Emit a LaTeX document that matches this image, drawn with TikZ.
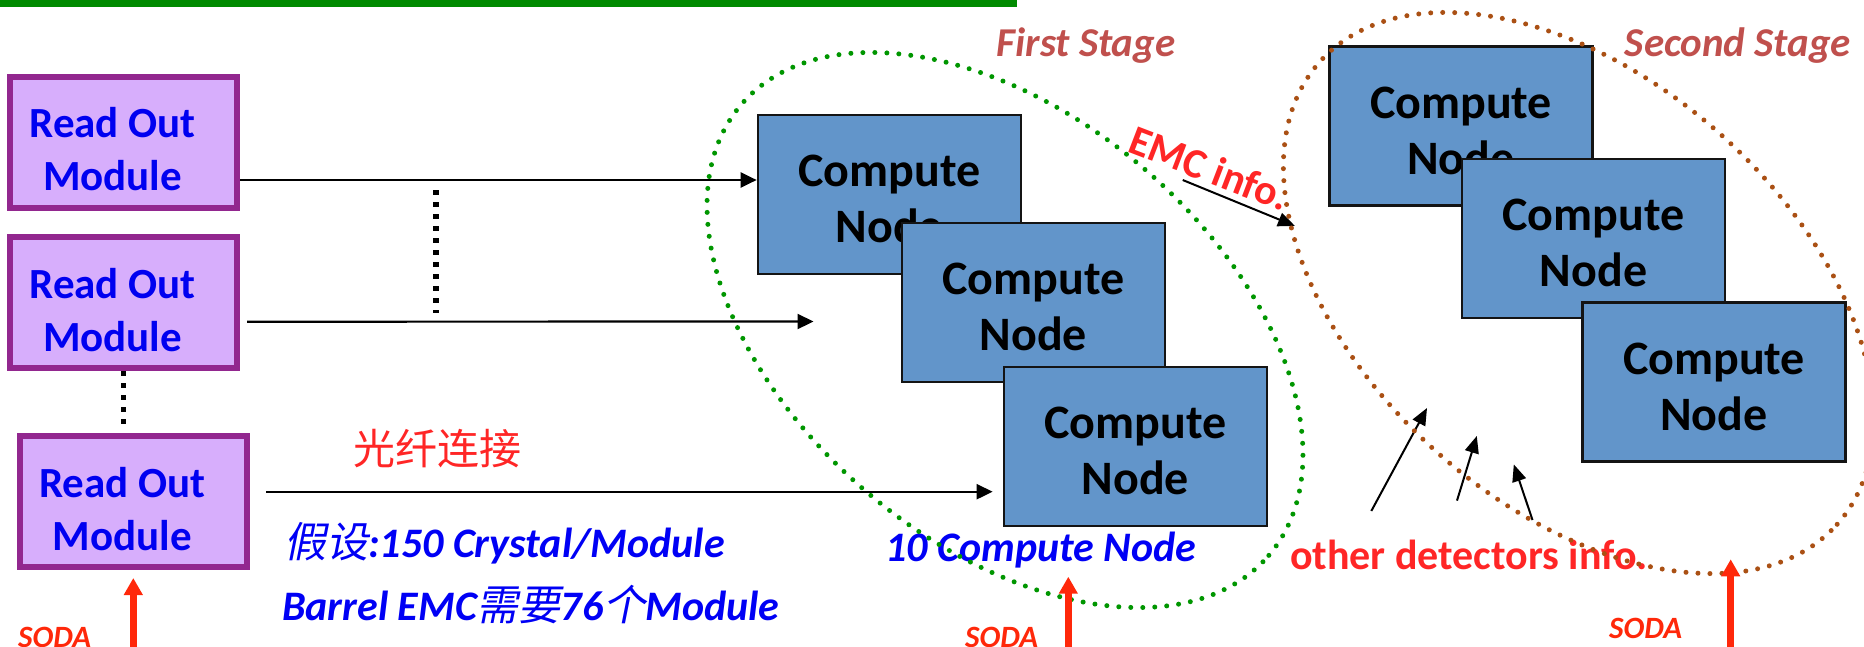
\documentclass[tikz,border=0pt]{standalone}
\usepackage{fontspec}
\setmainfont{Carlito}
\newfontfamily\cjkup{Noto Sans CJK SC}
\newfontfamily\cjkit{Noto Sans CJK SC}[FakeSlant=0.2]
\usetikzlibrary{arrows.meta,shapes.geometric,calc}

\definecolor{barGreen}{RGB}{0,138,0}
\definecolor{romFill}{RGB}{215,174,252}
\definecolor{romEdge}{RGB}{146,39,143}
\definecolor{romBlue}{RGB}{0,0,240}
\definecolor{cnFill}{RGB}{98,149,202}
\definecolor{cnEdge}{RGB}{20,20,20}
\definecolor{dotGreen}{RGB}{0,150,0}
\definecolor{dotBrown}{RGB}{170,80,20}
\definecolor{stageRed}{RGB}{192,80,77}
\definecolor{noteBlue}{RGB}{0,0,245}
\definecolor{infoRed}{RGB}{255,38,38}
\definecolor{sodaRed}{RGB}{255,40,10}

% strut that lowers the two-line label inside a compute box
\newcommand\cnLift{\rule{0pt}{40.5pt}}
% upright CJK inside the bold italic notes
\newcommand\cjkNote[1]{{\cjkit\mdseries #1}}

\begin{document}
\begin{tikzpicture}[x=1pt,y=-1pt,
  romBox/.style={draw=romEdge, fill=romFill, line width=6pt,
    minimum width=227pt, minimum height=131pt, inner sep=0pt},
  romText/.style={text=romBlue, font=\bfseries\fontsize{43}{53}\selectfont,
    align=center, inner sep=0pt},
  cnBox/.style={draw=cnEdge, fill=cnFill, line width=2.5pt,
    minimum width=263pt, minimum height=159pt, inner sep=0pt,
    align=center, font=\bfseries\fontsize{48}{56}\selectfont},
  link/.style={line width=2.2pt, -{Triangle[length=16pt,width=15pt]}},
  thinArrow/.style={line width=2pt, -{Triangle[length=17pt,width=14pt]}},
  sodaArrow/.style={draw=sodaRed, line width=6.5pt,
    -{Triangle[length=17pt,width=18pt]}},
  vdots/.style={line width=5.5pt, dash pattern=on 5.3pt off 6.7pt},
  stageRing/.style={ellipse, inner sep=0pt, line width=5pt, line cap=round,
    dash pattern=on 0pt off 12pt, minimum width=694pt, minimum height=426pt},
  stageTitle/.style={text=stageRed, font=\bfseries\itshape\fontsize{41}{48}\selectfont,
    inner sep=0pt, anchor=base},
  note/.style={text=noteBlue, font=\bfseries\itshape\fontsize{42}{50}\selectfont,
    inner sep=0pt, anchor=base west},
  redLabel/.style={text=infoRed, font=\bfseries\fontsize{42}{50}\selectfont, inner sep=0pt},
  sodaText/.style={text=sodaRed, font=\bfseries\itshape\fontsize{31}{36}\selectfont,
    inner sep=0pt, anchor=base west}
]
\useasboundingbox (0,0) rectangle (1864,646);
\fill[white] (0,0) rectangle (1864,646);
\clip (0,0) rectangle (1864,646);

% title rule
\fill[barGreen] (0,0) rectangle (1017,7.3);

% read-out modules
\node[romBox] (r1) at (123.6,142) {};
\node[romBox] (r2) at (123.6,302.5) {};
\node[romBox] (r3) at (133.5,501.2) {};
\node[romText] (r1t) at ($(r1.center)+(-11,7.5)$) {Read Out\\Module};
\node[romText] (r2t) at ($(r2.center)+(-11,7.5)$) {Read Out\\Module};
\node[romText] (r3t) at ($(r3.center)+(-11,7.5)$) {Read Out\\Module};

% first-stage compute nodes
\node[cnBox] (c1) at (889.4,194.3) {\cnLift Compute\\Node};
\node[cnBox] (c2) at (1033.4,302.3) {\cnLift Compute\\Node};
\node[cnBox] (c3) at (1135.4,446.5) {\cnLift Compute\\Node};

% second-stage compute nodes
\node[cnBox] (c4) at (1461,126) {\cnLift Compute\\Node};
\node[cnBox] (c5) at (1593.5,238.3) {\cnLift Compute\\Node};
\node[cnBox] (c6) at (1714,382) {\cnLift Compute\\Node};

% fibre links
\draw[link] (r1.east) ++(0,38) coordinate (a1s) -- (a1s -| c1.west);
\coordinate (a2s) at ($(r2.east)+(7,19.2)$);
\coordinate (a2e) at (813.5,321.5);
\draw[link] (a2s) -- (a2e);
\coordinate (a3s) at ($(r3.east)+(16,-9.5)$);
\path (a3s -| c3.west) coordinate (a3w);
\draw[link] (a3s) -- ([xshift=-10pt]a3w);

% ellipsis marks
\draw[vdots] (r2.south) -- ++(0,54);
\coordinate (d1) at (436,190);
\coordinate (d2) at (436,313);
\draw[vdots] (d1) -- (d2);

% labels on the left
\node[text=infoRed, font=\cjkup\fontsize{42}{50}\selectfont, inner sep=0pt] (fiber) at (437.5,449) {光纤连接};
\node[note] (n1) at (284,557) {\cjkNote{假设}:150 Crystal/Module};
\node[note] (n2) at (282,620.5) {Barrel EMC\cjkNote{需要}76\cjkNote{个}Module};
\node[note, anchor=base] (n3) at (1041,561) {10 Compute Node};

% stage titles
\node[stageTitle] (t1) at (1086,56) {First Stage};
\node[stageTitle] (t2) at (1738,56) {Second Stage};

% EMC info arrow
\node[redLabel, rotate=-21] (emc) at (1210,168) {EMC info.};
\coordinate (e1) at (1182.7,180);
\coordinate (e2) at (1295,226);
\draw[thinArrow] (e1) -- (e2);

% other detectors
\node[redLabel, anchor=base] (oth) at (1469,569) {other detectors info.};
\coordinate (o1s) at (1371.3,511);
\coordinate (o1e) at (1427,408);
\coordinate (o2s) at (1457,500.6);
\coordinate (o2e) at (1476.8,436);
\coordinate (o3s) at (1532.5,520);
\coordinate (o3e) at (1513.8,464.4);
\draw[thinArrow] (o1s) -- (o1e);
\draw[thinArrow] (o2s) -- (o2e);
\draw[thinArrow] (o3s) -- (o3e);

% stage boundaries
\node[stageRing, draw=dotGreen, rotate=-40.5] (s1) at (1005,330) {};
\node[stageRing, draw=dotBrown, rotate=-41.8] (s2) at (1578.5,293) {};

% SODA inputs
\coordinate (sl0) at (133.3,660);
\coordinate (sl1) at (133.3,578);
\draw[sodaArrow] (sl0) -- (sl1);
\node[sodaText] (sodaL) at (18,647.5) {SODA};
\coordinate (sm0) at (1068.3,660);
\coordinate (sm1) at (1068.3,576.7);
\draw[sodaArrow] (sm0) -- (sm1);
\node[sodaText] (sodaM) at (965,647.5) {SODA};
\coordinate (sr0) at (1730.7,660);
\coordinate (sr1) at (1730.7,559.3);
\draw[sodaArrow] (sr0) -- (sr1);
\node[sodaText] (sodaR) at (1609,638.3) {SODA};
\end{tikzpicture}
\end{document}
